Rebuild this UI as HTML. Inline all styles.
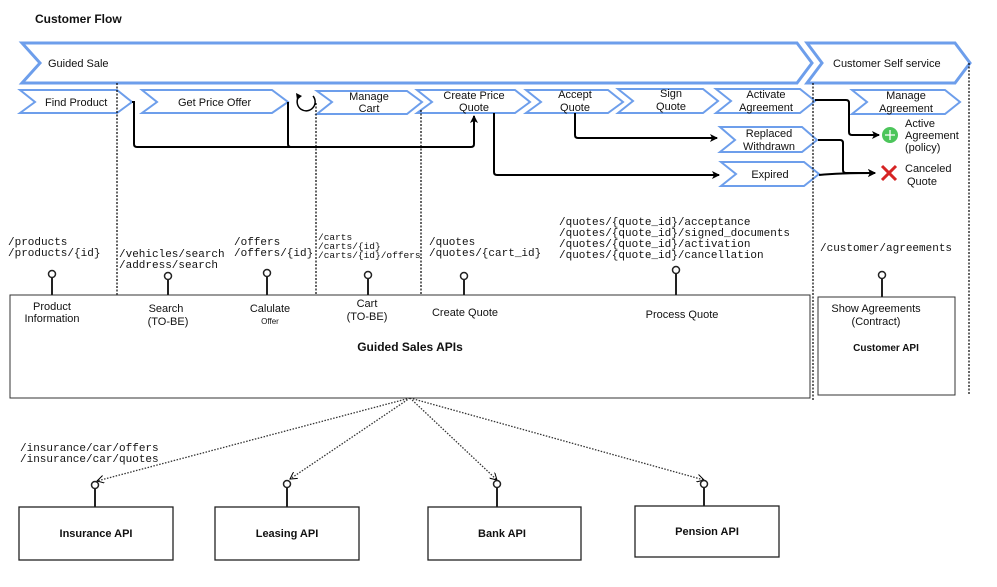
<!DOCTYPE html>
<html><head><meta charset="utf-8"><style>
html,body{margin:0;padding:0;background:#fff;}
svg text{font-family:"Liberation Sans",sans-serif;font-size:11px;fill:#111;}
svg text.m{font-family:"Liberation Mono",monospace;font-size:11px;}
svg text.b{font-weight:bold;}
</style></head><body>
<svg width="997" height="582" viewBox="0 0 997 582" xmlns="http://www.w3.org/2000/svg">
<defs>
<marker id="ar" markerWidth="8" markerHeight="8" refX="7" refY="4" orient="auto" markerUnits="userSpaceOnUse"><path d="M0,0 L8,4 L0,8 L2,4 z" fill="#000"/></marker>
<marker id="oa" markerWidth="8" markerHeight="8" refX="7" refY="4" orient="auto" markerUnits="userSpaceOnUse"><path d="M0,0 L7,4 L0,8" fill="none" stroke="#000"/></marker>
</defs>
<text x="35" y="23" class="b" style="font-size:12px">Customer Flow</text>
<g fill="#fff" stroke="#6d9eeb">
<polygon points="22,43 797,43 812,63 797,83 22,83 40,63" stroke-width="3"/>
<polygon points="807,43 955,43 970,63 955,83 807,83 822,63" stroke-width="3"/>
<g stroke-width="2">
<polygon points="20,90 117,90 132,102 117,113 20,113 35,102"/>
<polygon points="142,90 272,90 288,102 272,113 142,113 157,102"/>
<polygon points="317,91 407,91 422,102 407,114 317,114 332,102"/>
<polygon points="417,90 515,90 530,102 515,113 417,113 432,102"/>
<polygon points="526,90 608,90 623,102 608,113 526,113 541,102"/>
<polygon points="618,89 703,89 718,101 703,113 618,113 633,101"/>
<polygon points="716,89 800,89 815,101 800,113 716,113 731,101"/>
<polygon points="852,90 945,90 960,102 945,114 852,114 867,102"/>
<polygon points="720,127 802,127 817,140 802,152 720,152 735,140"/>
<polygon points="721,162 804,162 819,174 804,186 721,186 736,174"/>
</g></g>
<text x="48" y="67">Guided Sale</text>
<text x="833" y="67">Customer Self service</text>
<text x="45" y="106">Find Product</text>
<text x="178" y="106">Get Price Offer</text>
<text x="369" y="100" text-anchor="middle">Manage</text><text x="369" y="112" text-anchor="middle">Cart</text>
<text x="474" y="99" text-anchor="middle">Create Price</text><text x="474" y="111" text-anchor="middle">Quote</text>
<text x="575" y="98" text-anchor="middle">Accept</text><text x="575" y="111" text-anchor="middle">Quote</text>
<text x="671" y="97" text-anchor="middle">Sign</text><text x="671" y="110" text-anchor="middle">Quote</text>
<text x="766" y="98" text-anchor="middle">Activate</text><text x="766" y="111" text-anchor="middle">Agreement</text>
<text x="906" y="99" text-anchor="middle">Manage</text><text x="906" y="112" text-anchor="middle">Agreement</text>
<text x="769" y="137" text-anchor="middle">Replaced</text><text x="769" y="150" text-anchor="middle">Withdrawn</text>
<text x="770" y="178" text-anchor="middle">Expired</text>
<g stroke="#000" stroke-width="1.2" stroke-dasharray="2,1.5" fill="none">
<line x1="117" y1="83" x2="117" y2="295"/><line x1="316" y1="103" x2="316" y2="295"/>
<line x1="421" y1="110" x2="421" y2="295"/><line x1="813" y1="83" x2="813" y2="400"/>
<line x1="969" y1="63" x2="969" y2="395"/>
</g>
<g stroke="#000" stroke-width="2" fill="none">
<path d="M132,102 h2 v42 q0,3 3,3 h334 q3,0 3,-3 v-28" marker-end="url(#ar)"/>
<path d="M288,102 v42 q0,3 3,3 h10"/>
<path d="M494,113 v59 q0,3 3,3 h222" marker-end="url(#ar)"/>
<path d="M575,113 v22 q0,3 3,3 h139" marker-end="url(#ar)"/>
<path d="M815,100 h31 q3,0 3,3 v29 q0,3 3,3 h27" marker-end="url(#ar)"/>
<path d="M818,140 h22 q3,0 3,3 v27 q0,3 3,3 h29" marker-end="url(#ar)"/>
<path d="M819,175 q20,-2 56,-2" marker-end="url(#ar)"/>
<path d="M313,96 a9,9 0 1 1 -15,2" stroke-width="1.5"/>
</g>
<path d="M296,93 l1,7 l5,-4 z" fill="#000"/>
<circle cx="890" cy="135" r="8" fill="#4cc55b"/>
<path d="M885,135 h10 M890,130 v10" stroke="#fff" stroke-width="1.3"/>
<path d="M882,166 l14,14 M896,166 l-14,14" stroke="#d62424" stroke-width="3"/>
<text x="905" y="127">Active</text><text x="905" y="139">Agreement</text><text x="905" y="151">(policy)</text>
<text x="905" y="172">Canceled</text><text x="907" y="185">Quote</text>
<text class="m" x="8" y="245">/products</text><text class="m" x="8" y="256">/products/{id}</text>
<text class="m" x="119" y="257">/vehicles/search</text><text class="m" x="119" y="268">/address/search</text>
<text class="m" x="234" y="245">/offers</text><text class="m" x="234" y="256">/offers/{id}</text>
<text class="m" x="318" y="240" style="font-size:9.5px">/carts</text><text class="m" x="318" y="249" style="font-size:9.5px">/carts/{id}</text><text class="m" x="318" y="258" style="font-size:9.5px">/carts/{id}/offers</text>
<text class="m" x="429" y="245">/quotes</text><text class="m" x="429" y="256">/quotes/{cart_id}</text>
<text class="m" x="559" y="225">/quotes/{quote_id}/acceptance</text>
<text class="m" x="559" y="236">/quotes/{quote_id}/signed_documents</text>
<text class="m" x="559" y="247">/quotes/{quote_id}/activation</text>
<text class="m" x="559" y="258">/quotes/{quote_id}/cancellation</text>
<text class="m" x="820" y="251">/customer/agreements</text>
<rect x="10" y="295" width="800" height="103" fill="none" stroke="#333"/>
<rect x="818" y="297" width="137" height="98" fill="none" stroke="#333"/>
<g stroke="#222" stroke-width="2" fill="#fff">
<line x1="52" y1="278" x2="52" y2="295"/><circle cx="52" cy="274" r="3.5" stroke-width="1.5"/>
<line x1="168" y1="280" x2="168" y2="295"/><circle cx="168" cy="276" r="3.5" stroke-width="1.5"/>
<line x1="267" y1="277" x2="267" y2="295"/><circle cx="267" cy="273" r="3.5" stroke-width="1.5"/>
<line x1="368" y1="279" x2="368" y2="295"/><circle cx="368" cy="275" r="3.5" stroke-width="1.5"/>
<line x1="464" y1="280" x2="464" y2="295"/><circle cx="464" cy="276" r="3.5" stroke-width="1.5"/>
<line x1="676" y1="274" x2="676" y2="295"/><circle cx="676" cy="270" r="3.5" stroke-width="1.5"/>
<line x1="882" y1="279" x2="882" y2="297"/><circle cx="882" cy="275" r="3.5" stroke-width="1.5"/>
</g>
<g style="font-size:10px">
<text x="52" y="310" text-anchor="middle">Product</text><text x="52" y="322" text-anchor="middle">Information</text>
<text x="166" y="312" text-anchor="middle">Search</text><text x="168" y="325" text-anchor="middle">(TO-BE)</text>
<text x="270" y="312" text-anchor="middle">Calulate</text><text x="270" y="324" text-anchor="middle" style="font-size:8px">Offer</text>
<text x="367" y="307" text-anchor="middle">Cart</text><text x="367" y="320" text-anchor="middle">(TO-BE)</text>
<text x="465" y="316" text-anchor="middle">Create Quote</text>
<text x="682" y="318" text-anchor="middle">Process Quote</text>
<text x="876" y="312" text-anchor="middle">Show Agreements</text><text x="876" y="325" text-anchor="middle">(Contract)</text>
</g>
<text x="410" y="351" text-anchor="middle" class="b" style="font-size:12px">Guided Sales APIs</text>
<text x="886" y="351" text-anchor="middle" class="b" style="font-size:10px">Customer API</text>
<g stroke="#333" stroke-width="1.3" stroke-dasharray="1.5,1.5" fill="none">
<line x1="410" y1="398" x2="97" y2="481" marker-end="url(#oa)"/>
<line x1="410" y1="398" x2="290" y2="479" marker-end="url(#oa)"/>
<line x1="410" y1="398" x2="497" y2="480" marker-end="url(#oa)"/>
<line x1="410" y1="398" x2="704" y2="480" marker-end="url(#oa)"/>
</g>
<text class="m" x="20" y="451">/insurance/car/offers</text><text class="m" x="20" y="462">/insurance/car/quotes</text>
<g stroke="#222" stroke-width="2" fill="#fff">
<line x1="95" y1="489" x2="95" y2="507"/><circle cx="95" cy="485" r="3.5" stroke-width="1.5"/>
<line x1="287" y1="488" x2="287" y2="507"/><circle cx="287" cy="484" r="3.5" stroke-width="1.5"/>
<line x1="497" y1="488" x2="497" y2="507"/><circle cx="497" cy="484" r="3.5" stroke-width="1.5"/>
<line x1="704" y1="488" x2="704" y2="506"/><circle cx="704" cy="484" r="3.5" stroke-width="1.5"/>
</g>
<g fill="none" stroke="#222" stroke-width="1.3">
<rect x="19" y="507" width="154" height="53"/><rect x="215" y="507" width="144" height="53"/>
<rect x="428" y="507" width="153" height="53"/><rect x="635" y="506" width="144" height="51"/>
</g>
<g class="b" style="font-size:10px;font-weight:bold">
<text x="96" y="537" text-anchor="middle">Insurance API</text>
<text x="287" y="537" text-anchor="middle">Leasing  API</text>
<text x="502" y="537" text-anchor="middle">Bank API</text>
<text x="707" y="535" text-anchor="middle">Pension API</text>
</g>
</svg>
</body></html>
